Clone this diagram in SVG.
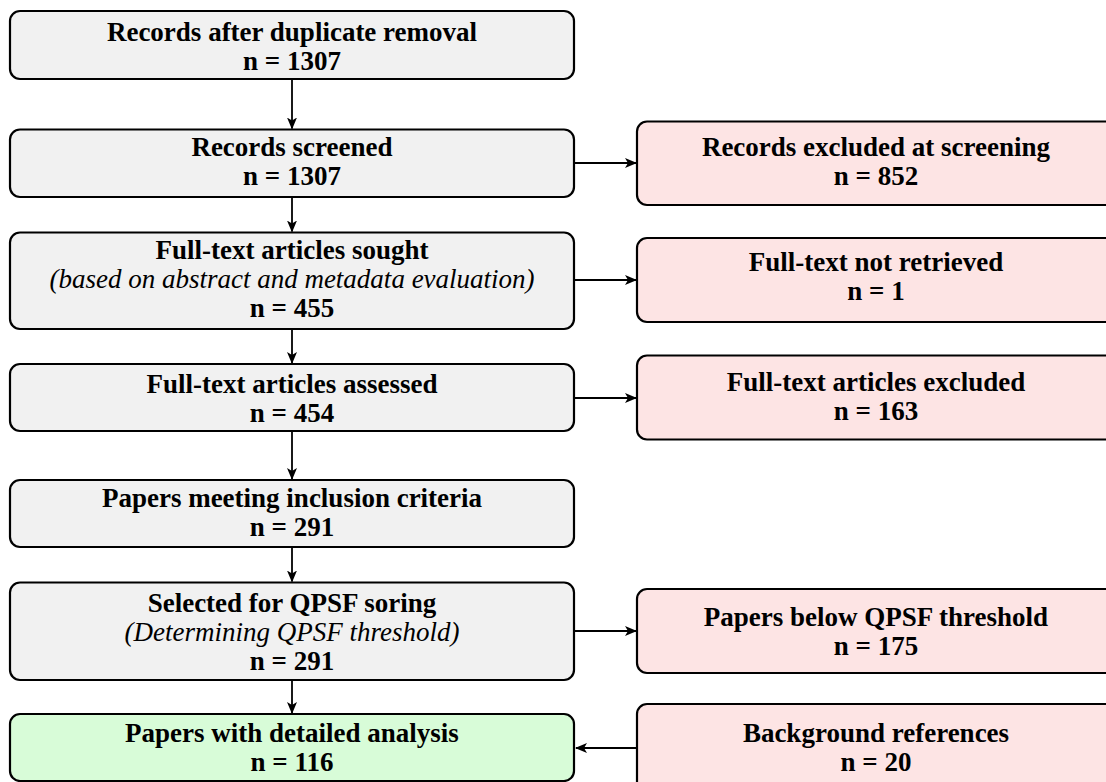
<svg xmlns="http://www.w3.org/2000/svg" width="1106" height="782" viewBox="0 0 1106 782">
  <style>
    .box { stroke: #000; stroke-width: 2.2; }
    .grey { fill: #f1f1f1; }
    .pink { fill: #fde4e4; }
    .green { fill: #d8fcd8; }
    text { font-family: "Liberation Serif", "Times New Roman", serif; font-size: 27px; text-anchor: middle; fill: #000; }
    .b { font-weight: bold; }
    .i { font-style: italic; }
    .edge { stroke: #000; stroke-width: 1.8; fill: none; marker-end: url(#head); }
  </style>
  <defs>
    <marker id="head" viewBox="0 0 12 10" refX="11" refY="5" markerWidth="12" markerHeight="10" markerUnits="userSpaceOnUse" orient="auto">
      <path d="M0,0 L12,5 L0,10 L3,5 Z" fill="#000"/>
    </marker>
  </defs>

  <g id="connectors">
    <line class="edge" x1="292" y1="80" x2="292" y2="128.5"/>
    <line class="edge" x1="292" y1="198" x2="292" y2="231.5"/>
    <line class="edge" x1="292" y1="330" x2="292" y2="363"/>
    <line class="edge" x1="292" y1="432" x2="292" y2="479"/>
    <line class="edge" x1="292" y1="548" x2="292" y2="581.5"/>
    <line class="edge" x1="292" y1="681" x2="292" y2="713"/>
    <line class="edge" x1="575" y1="163" x2="636" y2="163"/>
    <line class="edge" x1="575" y1="280" x2="636" y2="280"/>
    <line class="edge" x1="575" y1="398" x2="636" y2="398"/>
    <line class="edge" x1="575" y1="631" x2="636" y2="631"/>
    <line class="edge" x1="637" y1="748" x2="576" y2="748"/>
  </g>

  <g id="n-records">
    <rect class="box grey" x="10" y="11" width="564" height="68" rx="10"/>
    <text class="b" x="292" y="41">Records after duplicate removal</text>
    <text class="b" x="292" y="70">n = 1307</text>
  </g>
  <g id="n-screened">
    <rect class="box grey" x="10" y="129.5" width="564" height="67.5" rx="10"/>
    <text class="b" x="292" y="156">Records screened</text>
    <text class="b" x="292" y="185">n = 1307</text>
  </g>
  <g id="n-sought">
    <rect class="box grey" x="10" y="232.5" width="564" height="96.5" rx="10"/>
    <text class="b" x="292" y="259">Full-text articles sought</text>
    <text class="i" x="292" y="288">(based on abstract and metadata evaluation)</text>
    <text class="b" x="292" y="317">n = 455</text>
  </g>
  <g id="n-assessed">
    <rect class="box grey" x="10" y="364" width="564" height="67" rx="10"/>
    <text class="b" x="292" y="393">Full-text articles assessed</text>
    <text class="b" x="292" y="422">n = 454</text>
  </g>
  <g id="n-inclusion">
    <rect class="box grey" x="10" y="480" width="564" height="67" rx="10"/>
    <text class="b" x="292" y="507">Papers meeting inclusion criteria</text>
    <text class="b" x="292" y="536">n = 291</text>
  </g>
  <g id="n-qpsf">
    <rect class="box grey" x="10" y="582.5" width="564" height="97.5" rx="10"/>
    <text class="b" x="292" y="612">Selected for QPSF soring</text>
    <text class="i" x="292" y="641">(Determining QPSF threshold)</text>
    <text class="b" x="292" y="670">n = 291</text>
  </g>
  <g id="n-analysis">
    <rect class="box green" x="10" y="714" width="564" height="67" rx="10"/>
    <text class="b" x="292" y="742">Papers with detailed analysis</text>
    <text class="b" x="292" y="771">n = 116</text>
  </g>

  <g id="x-screening">
    <rect class="box pink" x="637" y="121.5" width="480" height="83.5" rx="10"/>
    <text class="b" x="876" y="156">Records excluded at screening</text>
    <text class="b" x="876" y="185">n = 852</text>
  </g>
  <g id="x-retrieved">
    <rect class="box pink" x="637" y="238" width="480" height="84" rx="10"/>
    <text class="b" x="876" y="271">Full-text not retrieved</text>
    <text class="b" x="876" y="300">n = 1</text>
  </g>
  <g id="x-fulltext">
    <rect class="box pink" x="637" y="355.5" width="480" height="84" rx="10"/>
    <text class="b" x="876" y="391">Full-text articles excluded</text>
    <text class="b" x="876" y="420">n = 163</text>
  </g>
  <g id="x-threshold">
    <rect class="box pink" x="637" y="589" width="480" height="84" rx="10"/>
    <text class="b" x="876" y="626">Papers below QPSF threshold</text>
    <text class="b" x="876" y="655">n = 175</text>
  </g>
  <g id="x-background">
    <rect class="box pink" x="637" y="704" width="480" height="90" rx="10"/>
    <text class="b" x="876" y="742">Background references</text>
    <text class="b" x="876" y="771">n = 20</text>
  </g>
</svg>
